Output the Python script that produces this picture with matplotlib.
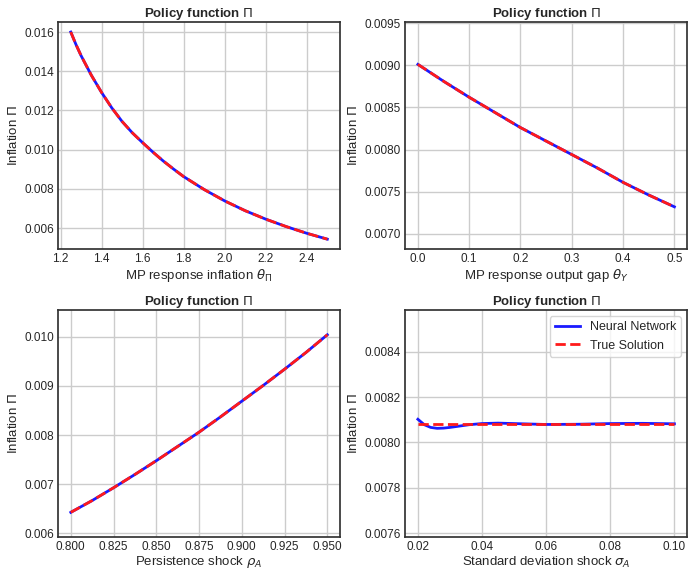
"""Policy function Pi: neural network vs true solution for four parameters."""

import numpy as np
import matplotlib

matplotlib.use("Agg")
import matplotlib.pyplot as plt
from matplotlib.ticker import FormatStrFormatter

# ── Data ─────────────────────────────────────────────────────────────────────

theta_pi = [1.250, 1.275, 1.300, 1.325, 1.350, 1.400, 1.450, 1.500, 1.550,
            1.600, 1.650, 1.700, 1.750, 1.800, 1.900, 2.000, 2.100, 2.200,
            2.300, 2.400, 2.500]
pi_theta_pi = [0.01600, 0.01537, 0.01480, 0.01430, 0.01380, 0.01292, 0.01213,
               0.01144, 0.01086, 0.01036, 0.00988, 0.00943, 0.00902, 0.00863,
               0.00797, 0.00739, 0.00689, 0.00646, 0.00608, 0.00574, 0.00544]

theta_y = [0.00, 0.05, 0.10, 0.15, 0.20, 0.25, 0.30, 0.35, 0.40, 0.45, 0.50]
pi_theta_y = [0.00901, 0.00881, 0.00862, 0.00844, 0.00826, 0.00810, 0.00794,
              0.00778, 0.00761, 0.00746, 0.00732]

rho_a = [0.8000, 0.8125, 0.8250, 0.8375, 0.8500, 0.8625, 0.8750, 0.8875,
         0.9000, 0.9125, 0.9250, 0.9375, 0.9500]
pi_rho_a = [0.00643, 0.00667, 0.00693, 0.00720, 0.00748, 0.00777, 0.00806,
            0.00837, 0.00869, 0.00901, 0.00934, 0.00968, 0.01004]

sigma_a = [0.020, 0.021, 0.022, 0.024, 0.026, 0.028, 0.030, 0.033, 0.036,
           0.040, 0.045, 0.050, 0.060, 0.070, 0.080, 0.090, 0.100]
pi_sigma_nn = [0.008102, 0.008090, 0.008078, 0.008066, 0.008062, 0.008063,
               0.008066, 0.008072, 0.008078, 0.008083, 0.008085, 0.008083,
               0.008079, 0.008080, 0.008083, 0.008084, 0.008082]
pi_sigma_true = [0.008083] * len(sigma_a)

PANELS = [
    (theta_pi, pi_theta_pi, pi_theta_pi, r"MP response inflation $\theta_\Pi$"),
    (theta_y, pi_theta_y, pi_theta_y, r"MP response output gap $\theta_Y$"),
    (rho_a, pi_rho_a, pi_rho_a, r"Persistence shock $\rho_A$"),
    (sigma_a, pi_sigma_nn, pi_sigma_true, r"Standard deviation shock $\sigma_A$"),
]

# ── Style ────────────────────────────────────────────────────────────────────

plt.rcParams.update({
    "font.family": ["Liberation Sans", "DejaVu Sans"],
    "mathtext.fontset": "dejavusans",
    "axes.edgecolor": "#333333",
    "axes.linewidth": 1.25,
    "axes.grid": True,
    "grid.color": "#cccccc",
    "grid.linewidth": 1.0,
    "text.color": "#262626",
    "axes.labelcolor": "#262626",
    "xtick.color": "#262626",
    "ytick.color": "#262626",
    "xtick.major.size": 0,
    "ytick.major.size": 0,
    "xtick.labelsize": 8.5,
    "ytick.labelsize": 8.5,
    "axes.labelsize": 9.5,
})

fig, axes = plt.subplots(2, 2, figsize=(6.9, 5.7), dpi=100)
fig.subplots_adjust(left=0.084, right=0.996, bottom=0.058, top=0.961,
                    wspace=0.23, hspace=0.27)

for ax, (x, nn, true, xlabel) in zip(axes.flatten(), PANELS):
    ax.plot(x, nn, color="#1a1aff", lw=2.0, label="Neural Network")
    ax.plot(x, true, color="#ff1a1a", lw=2.0, ls="--", label="True Solution")
    ax.set_ylim(min(true) - 0.0005, max(true) + 0.0005)
    ax.set_title(r"Policy function $\Pi$", fontsize=9.5, fontweight="bold", pad=3)
    ax.set_xlabel(xlabel, labelpad=1)
    ax.set_ylabel(r"Inflation $\Pi$", labelpad=3)
    ax.tick_params(axis="both", pad=3)

axes[1, 0].set_xticks([0.800, 0.825, 0.850, 0.875, 0.900, 0.925, 0.950])
axes[1, 0].xaxis.set_major_formatter(FormatStrFormatter("%.3f"))
axes[1, 1].legend(loc="upper right", fontsize=9, handlelength=2.0,
                  frameon=True, edgecolor="#cccccc")

fig.savefig("out.png", dpi=100)
